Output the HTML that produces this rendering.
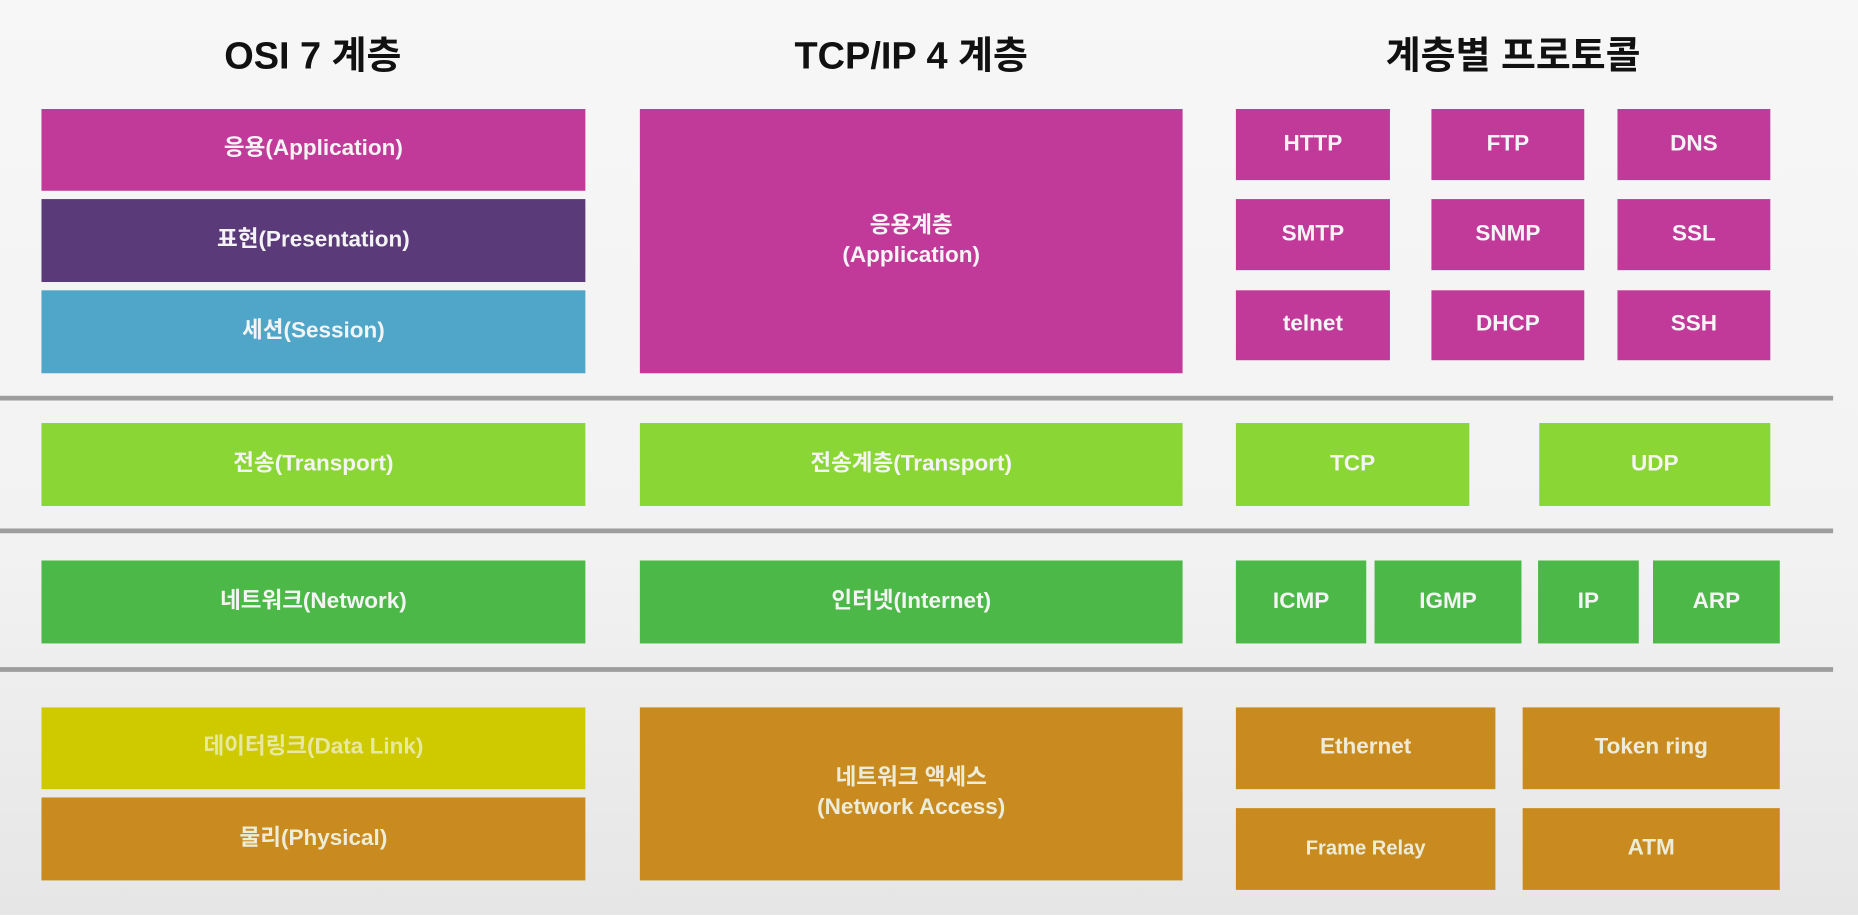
<!DOCTYPE html>
<html><head><meta charset="utf-8"><style>
html,body{margin:0;padding:0;width:1858px;height:915px;overflow:hidden;background:#f0f0f0}
#wrap{position:absolute;left:0;top:0;width:1568px;height:772px;transform:scale(1.18495);transform-origin:0 0;background:linear-gradient(#f7f7f7,#f2f2f2 60%,#e6e6e6)}
.b{position:absolute;display:flex;flex-direction:column;align-items:center;justify-content:center;color:#f4f4f4;font-family:"Liberation Sans Narrow","Liberation Sans","Noto Sans CJK KR",sans-serif;font-weight:bold;font-size:19px;line-height:1.3;text-align:center}
.h{position:absolute;top:22px;font-family:"Liberation Sans Narrow","Liberation Sans","Noto Sans CJK KR",sans-serif;font-weight:bold;font-size:32px;color:#111;text-align:center;width:400px}
.l{position:absolute;left:0;width:1547px;height:4px;background:#9d9d9d}
.m{background:#c13a9a}.p{background:#5a3a78}.c{background:#4fa6c8}.lg{background:#8ad634}.g{background:#4cb848}.y{background:#cfc900;color:#e8e8a0}.o{background:#c98b1f;color:#ececd8}
</style></head><body>
<div id="wrap">
<div class="h" style="left:64px">OSI 7 계층</div>
<div class="h" style="left:569px">TCP/IP 4 계층</div>
<div class="h" style="left:1077px">계층별 프로토콜</div>

<div class="b m" style="left:35px;top:92px;width:459px;height:69px">응용(Application)</div>
<div class="b p" style="left:35px;top:168px;width:459px;height:70px">표현(Presentation)</div>
<div class="b c" style="left:35px;top:245px;width:459px;height:70px">세션(Session)</div>
<div class="b lg" style="left:35px;top:357px;width:459px;height:70px">전송(Transport)</div>
<div class="b g" style="left:35px;top:473px;width:459px;height:70px">네트워크(Network)</div>
<div class="b y" style="left:35px;top:597px;width:459px;height:69px">데이터링크(Data Link)</div>
<div class="b o" style="left:35px;top:673px;width:459px;height:70px">물리(Physical)</div>

<div class="b m" style="left:540px;top:92px;width:458px;height:223px"><span>응용계층</span><span>(Application)</span></div>
<div class="b lg" style="left:540px;top:357px;width:458px;height:70px">전송계층(Transport)</div>
<div class="b g" style="left:540px;top:473px;width:458px;height:70px">인터넷(Internet)</div>
<div class="b o" style="left:540px;top:597px;width:458px;height:146px"><span>네트워크 액세스</span><span>(Network Access)</span></div>

<div class="b m" style="left:1043px;top:92px;width:130px;height:60px">HTTP</div>
<div class="b m" style="left:1208px;top:92px;width:129px;height:60px">FTP</div>
<div class="b m" style="left:1365px;top:92px;width:129px;height:60px">DNS</div>
<div class="b m" style="left:1043px;top:168px;width:130px;height:60px">SMTP</div>
<div class="b m" style="left:1208px;top:168px;width:129px;height:60px">SNMP</div>
<div class="b m" style="left:1365px;top:168px;width:129px;height:60px">SSL</div>
<div class="b m" style="left:1043px;top:245px;width:130px;height:59px">telnet</div>
<div class="b m" style="left:1208px;top:245px;width:129px;height:59px">DHCP</div>
<div class="b m" style="left:1365px;top:245px;width:129px;height:59px">SSH</div>

<div class="b lg" style="left:1043px;top:357px;width:197px;height:70px">TCP</div>
<div class="b lg" style="left:1299px;top:357px;width:195px;height:70px">UDP</div>

<div class="b g" style="left:1043px;top:473px;width:110px;height:70px">ICMP</div>
<div class="b g" style="left:1160px;top:473px;width:124px;height:70px">IGMP</div>
<div class="b g" style="left:1298px;top:473px;width:85px;height:70px">IP</div>
<div class="b g" style="left:1395px;top:473px;width:107px;height:70px">ARP</div>

<div class="b o" style="left:1043px;top:597px;width:219px;height:69px">Ethernet</div>
<div class="b o" style="left:1285px;top:597px;width:217px;height:69px">Token ring</div>
<div class="b o" style="left:1043px;top:682px;width:219px;height:69px;font-size:17px">Frame Relay</div>
<div class="b o" style="left:1285px;top:682px;width:217px;height:69px">ATM</div>

<div class="l" style="top:334px"></div>
<div class="l" style="top:446px"></div>
<div class="l" style="top:563px"></div>
</div>
</body></html>
